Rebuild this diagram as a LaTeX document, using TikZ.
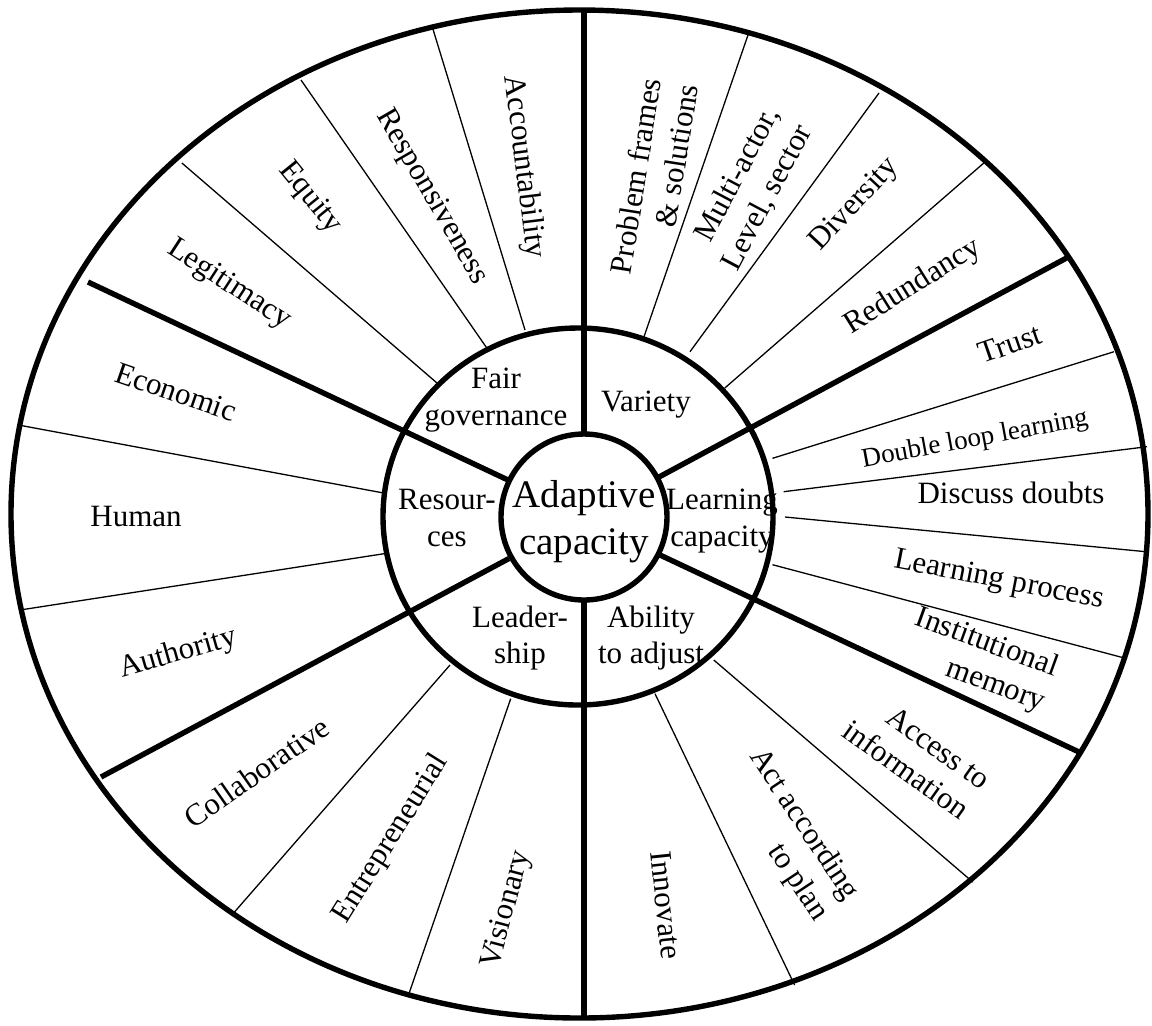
\documentclass[tikz,border=0pt]{standalone}
\usepackage{fontspec}
\setmainfont{Liberation Serif}
\usepackage{tikz}

\begin{document}
\begin{tikzpicture}
	[ x=0.5pt, y=-0.5pt,
		ringLine/.style={line width=2.7pt},
		mainSpoke/.style={line width=2.7pt},
		subSpoke/.style={line width=0.65pt},
		itemText/.style={font=\fontsize{15.5}{18.5}\selectfont,inner sep=0pt},
		smallText/.style={font=\fontsize{13.5}{16}\selectfont,inner sep=0pt},
		groupText/.style={font=\fontsize{15.5}{18.3}\selectfont,align=center,inner sep=0pt},
		hubText/.style={font=\fontsize{19.5}{23.4}\selectfont,align=center,inner sep=0pt}]

	\fill[white] (0,0) rectangle (1152,1025);
	\useasboundingbox (0,0) rectangle (1152,1025);

	% thin dividers between the items
	\draw[subSpoke] (525,330) -- (431.7,25);
	\draw[subSpoke] (486.8,348) -- (301,80);
	\draw[subSpoke] (437,383) -- (181.9,163);
	\draw[subSpoke] (382,492.7) -- (18.4,425);
	\draw[subSpoke] (384,553.7) -- (20,610);
	\draw[subSpoke] (450,665) -- (233,913.7);
	\draw[subSpoke] (510.7,698.7) -- (407.8,997);
	\draw[subSpoke] (655,693.7) -- (794.6,985);
	\draw[subSpoke] (713.8,660) -- (972.8,882);
	\draw[subSpoke] (772.5,564.7) -- (1127,658.7);
	\draw[subSpoke] (785,517) -- (1149,552);
	\draw[subSpoke] (783.6,491.7) -- (1147,446.7);
	\draw[subSpoke] (772.5,458.3) -- (1114,351.7);
	\draw[subSpoke] (724.8,388) -- (983.8,163);
	\draw[subSpoke] (690,351.7) -- (879,93);
	\draw[subSpoke] (644,336.7) -- (748.7,33);

	% thick dividers between the six groups
	\draw[mainSpoke] (584,433) -- (584,10);
	\draw[mainSpoke] (584,601) -- (584,1018);
	\draw[mainSpoke] (508,480) -- (88,282);
	\draw[mainSpoke] (659,477) -- (1066.5,258);
	\draw[mainSpoke] (660,555) -- (1079,752);
	\draw[mainSpoke] (509,558.5) -- (101,777);

	% rings
	\draw[ringLine] (579.5,514) ellipse [x radius=568.5, y radius=504];
	\draw[ringLine] (578,516.5) ellipse [x radius=195, y radius=188.5];
	\draw[ringLine,fill=white] (584,517) circle [radius=83];

	\node[hubText] (hub) at (584,522) {Adaptive\\capacity};

	\node[groupText] (fair) at (496,400) {Fair\\governance};
	\node[groupText] (variety) at (646,405) {Variety};
	\node[groupText] (resources) at (447,518) {Resour-\\ces};
	\node[groupText] (learning) at (722,521) {Learning\\capacity};
	\node[groupText] (leadership) at (520,638) {Leader-\\ship};
	\node[groupText] (adjust) at (651,638) {Ability\\to adjust};

	\node[itemText,rotate=-83] (accountability) at (523.5,167) {Accountability};
	\node[itemText,rotate=-60] (responsiveness) at (431.7,197) {Responsiveness};
	\node[itemText,rotate=-51] (equity) at (310,198) {Equity};
	\node[itemText,rotate=-33] (legitimacy) at (229,285) {Legitimacy};
	\node[itemText,rotate=-19] (economic) at (176,392) {Economic};
	\node[itemText] (human) at (136,516) {Human};
	\node[itemText,rotate=16] (authority) at (178,654) {Authority};
	\node[itemText,rotate=35] (collaborative) at (257,772) {Collaborative};
	\node[itemText,rotate=58] (entrepreneurial) at (391,839) {Entrepreneurial};
	\node[itemText,rotate=75] (visionary) at (507,910) {Visionary};
	\node[itemText,rotate=-84] (innovate) at (666,905) {Innovate};
	\node[itemText,rotate=-56.5,align=right] (plan) at (788,835) {Act according\\to plan};
	\node[itemText,rotate=-35.5,align=right] (access) at (917,755) {Access to\\information};
	\node[itemText,rotate=-20,align=right] (memory) at (980,661) {Institutional\\memory};
	\node[itemText,rotate=-11] (process) at (999,581) {Learning process};
	\node[itemText] (doubts) at (1011,493) {Discuss doubts};
	\node[smallText,rotate=10.5] (double loop) at (975,440) {Double loop learning};
	\node[itemText,rotate=19] (trust) at (1010,344) {Trust};
	\node[itemText,rotate=32] (redundancy) at (913,287) {Redundancy};
	\node[itemText,rotate=47] (diversity) at (855,205) {Diversity};
	\node[itemText,rotate=62,align=right] (multi actor) at (751,189) {Multi-actor,\\Level, sector};
	\node[itemText,rotate=81,align=right] (problem frames) at (654,179) {Problem frames\\\& solutions};
\end{tikzpicture}
\end{document}
